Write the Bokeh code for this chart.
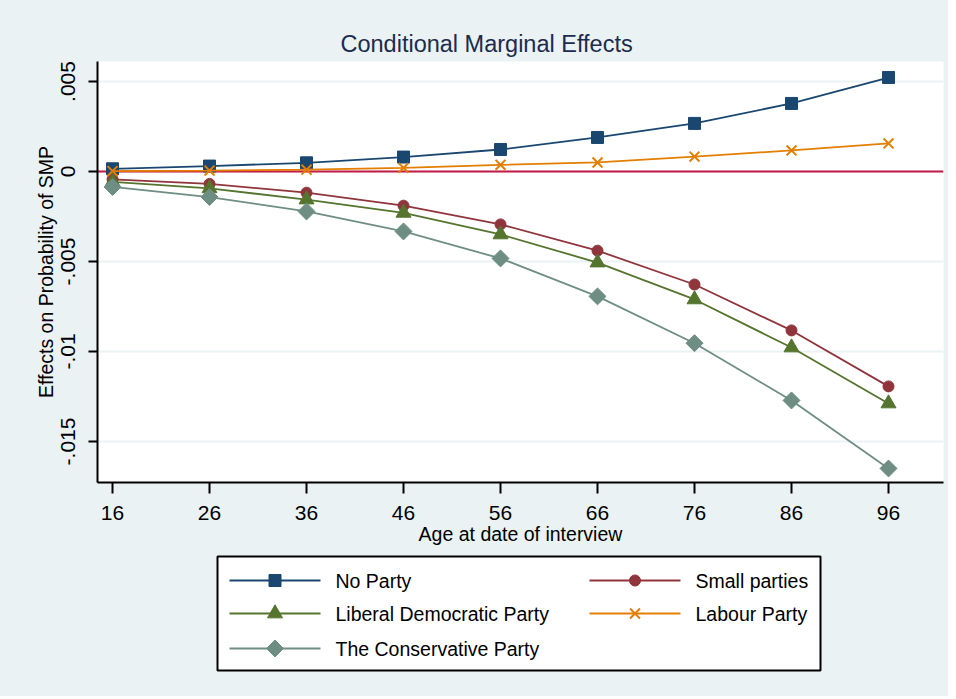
import math
from bokeh.plotting import figure
from bokeh.layouts import column
from bokeh.models import Range1d, FixedTicker, Span
from bokeh.core.properties import value
from bokeh.embed import file_html
from bokeh.resources import INLINE

ages = [16, 26, 36, 46, 56, 66, 76, 86, 96]
no_party = [0.00015, 0.0003, 0.00048, 0.0008, 0.00122, 0.00189, 0.00267, 0.00378, 0.00522]
small_parties = [-0.00044, -0.00069, -0.00118, -0.0019, -0.00294, -0.0044, -0.00628, -0.00883, -0.01194]
lib_dem = [-0.00058, -0.00094, -0.00156, -0.0023, -0.0035, -0.00506, -0.00711, -0.00978, -0.01289]
labour = [0.00002, 0.00005, 0.0001, 0.0002, 0.00037, 0.0005, 0.00083, 0.00117, 0.00156]
conservative = [-0.00086, -0.00142, -0.00222, -0.00333, -0.00483, -0.00694, -0.00954, -0.01272, -0.0165]

series_names = ["No Party", "Small parties", "Liberal Democratic Party", "Labour Party", "The Conservative Party"]
x_ticks = [16, 26, 36, 46, 56, 66, 76, 86, 96]
y_ticks = [0.005, 0.0, -0.005, -0.01, -0.015]
y_tick_labels = [".005", "0", "-.005", "-.01", "-.015"]

FONT = "Liberation Sans"
BG = "#eaf2f3"
W = 948
H1 = 552
H2 = 144
FL, FR = 97, 943  # frame left / right in page pixels

p = figure(width=W, height=H1, output_backend="svg", toolbar_location=None,
           x_range=Range1d(14.45, 101.67), y_range=Range1d(-0.01728, 0.00611),
           min_border_left=FL, min_border_right=W - FR, min_border_top=61, min_border_bottom=H1 - 482)
p.border_fill_color = BG
p.background_fill_color = "white"
p.outline_line_color = None

p.title.text = "Conditional Marginal Effects"
p.title.text_font = FONT
p.title.text_font_size = "23.5px"
p.title.text_font_style = "normal"
p.title.text_color = "#1c2b4e"
p.title.align = "left"
p.title.offset = 243

xa = p.xaxis[0]
xa.ticker = FixedTicker(ticks=x_ticks)
xa.minor_tick_line_color = None
xa.major_tick_in = 0
xa.major_tick_out = 11
xa.major_tick_line_width = 2
xa.axis_line_width = 2
xa.axis_line_color = "black"
xa.major_label_text_font = FONT
xa.major_label_text_font_size = "21px"
xa.major_label_text_color = "black"
xa.major_label_standoff = 12
xa.axis_label = "Age at date of interview"
xa.axis_label_text_font = FONT
xa.axis_label_text_font_size = "19.5px"
xa.axis_label_text_font_style = "normal"
xa.axis_label_text_color = "black"
xa.axis_label_standoff = 0

ya = p.yaxis[0]
ya.ticker = FixedTicker(ticks=y_ticks)
ya.major_label_overrides = {t: l for t, l in zip(y_ticks, y_tick_labels)}
ya.minor_tick_line_color = None
ya.major_tick_in = 0
ya.major_tick_out = 9
ya.major_tick_line_width = 2
ya.axis_line_width = 2
ya.axis_line_color = "black"
ya.major_label_orientation = "vertical"
ya.major_label_text_font = FONT
ya.major_label_text_font_size = "21px"
ya.major_label_text_color = "black"
ya.major_label_standoff = 13
ya.axis_label = "Effects on Probability of SMP"
ya.axis_label_text_font = FONT
ya.axis_label_text_font_size = "19.5px"
ya.axis_label_text_font_style = "normal"
ya.axis_label_text_color = "black"
ya.axis_label_standoff = 2

p.xgrid.grid_line_color = None
p.ygrid.grid_line_color = BG
p.ygrid.grid_line_width = 2

p.add_layout(Span(location=0, dimension="width", line_color="#c41a48", line_width=2, level="underlay"))

LW = 1.8
styles = [
    ("#1a476f", "square", 12, 0.0),
    ("#90353b", "circle", 11, 0.0),
    ("#55752f", "triangle", 15, 0.0),
    ("#e37e00", "x", 14, 0.0),
    ("#6e8e84", "square", 12, math.pi / 4),
]
values = [no_party, small_parties, lib_dem, labour, conservative]

for vals, (col, marker, size, ang) in zip(values, styles):
    p.line(ages, vals, line_color=col, line_width=LW)
    if marker == "x":
        p.scatter(ages, vals, marker="x", size=size, line_color=col, line_width=2)
    else:
        p.scatter(ages, vals, marker=marker, size=size, fill_color=col, line_color=col, angle=ang)

# ---- legend panel (frame aligned with main frame; coordinates are page pixels) ----
q = figure(width=W, height=H2, output_backend="svg", toolbar_location=None,
           x_range=Range1d(FL, FR), y_range=Range1d(H2, 0),
           min_border_left=FL, min_border_right=W - FR, min_border_top=0, min_border_bottom=0,
           x_axis_type=None, y_axis_type=None)
q.border_fill_color = BG
q.background_fill_color = BG
q.outline_line_color = None
q.xgrid.visible = False
q.ygrid.visible = False

q.quad(left=217, right=820, top=4, bottom=118, fill_color="white", line_color="black", line_width=2)

slots = [(229, 28), (589, 28), (229, 61), (589, 61), (229, 96)]
for name, (col, marker, size, ang), (x0, yy) in zip(series_names, styles, slots):
    q.segment(x0=x0, y0=yy, x1=x0 + 91, y1=yy, line_color=col, line_width=LW)
    if marker == "x":
        q.scatter([x0 + 45.5], [yy], marker="x", size=size, line_color=col, line_width=2)
    else:
        q.scatter([x0 + 45.5], [yy], marker=marker, size=size, fill_color=col, line_color=col, angle=ang)
    q.text([x0 + 106], [yy], text=[name], text_font=value(FONT), text_font_size="19.5px",
           text_baseline="middle", text_align="left", text_color="black")

layout = column(p, q, spacing=0, styles={"background-color": BG})
open("out.html", "w").write(file_html(layout, INLINE))
